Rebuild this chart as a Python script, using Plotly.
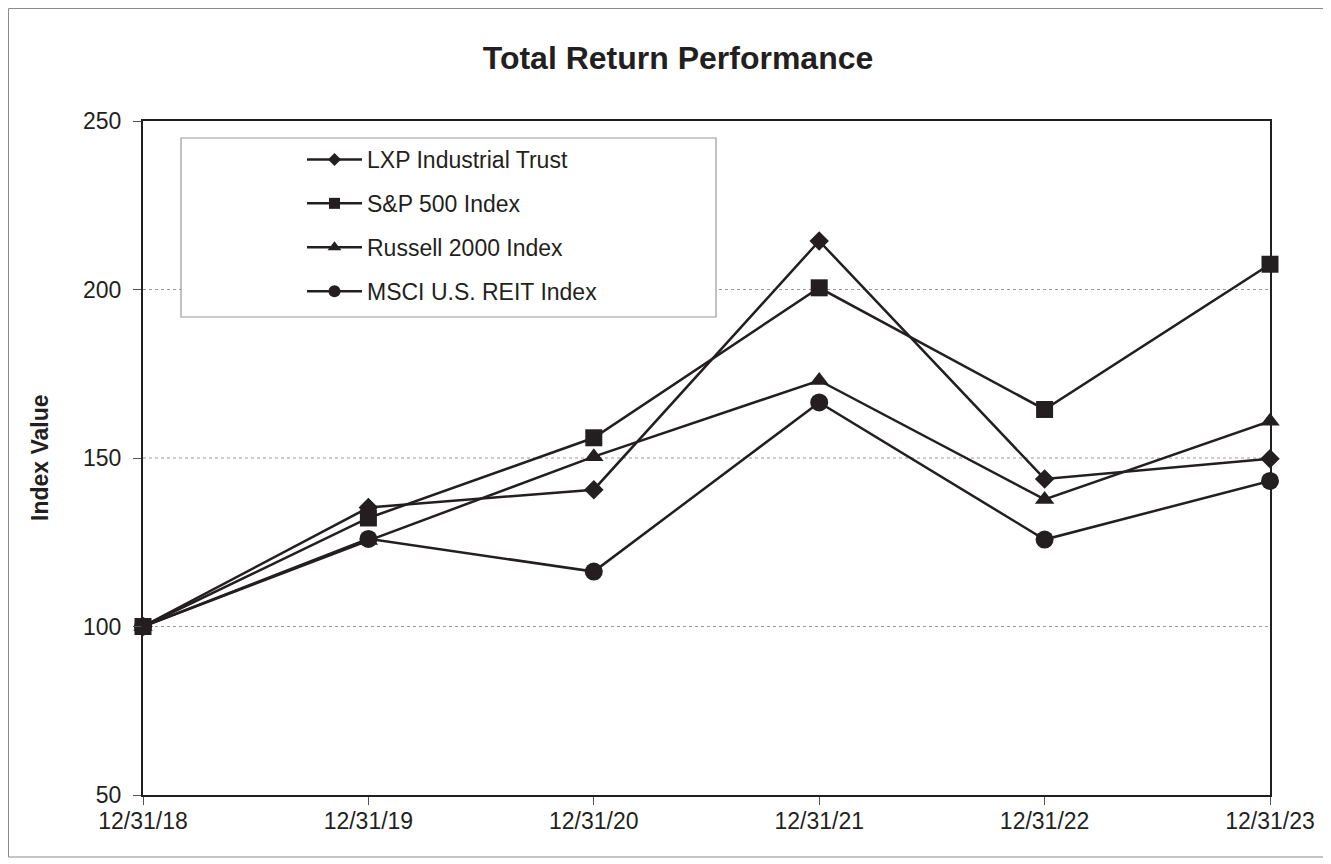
import plotly.graph_objects as go

dates = ["12/31/18", "12/31/19", "12/31/20", "12/31/21", "12/31/22", "12/31/23"]
lxp = [100, 135.3, 140.6, 214.4, 143.8, 149.8]
sp500 = [100, 132.2, 156.0, 200.5, 164.4, 207.5]
russell = [100, 125.5, 150.4, 173.0, 137.7, 160.9]
msci = [100, 126.0, 116.3, 166.5, 125.8, 143.2]

names = ["LXP Industrial Trust", "S&P 500 Index", "Russell 2000 Index", "MSCI U.S. REIT Index"]
series = [lxp, sp500, russell, msci]
symbols = ["diamond", "square", "triangle-up", "circle"]
sizes = [15, 17, 17, 18]
legend_sizes = [10, 11, 12, 12]

INK = "#231f20"
OFF = 8  # page body margin
W, H = 1331 - OFF, 864 - OFF
# target pixel positions in the screenshot
L, R, T, B = 143, 1270, 121, 795

def px_x(p):
    return (p - L) / (R - L)

def px_y(p):
    return (B - p) / (B - T)

fig = go.Figure()
for i, (n, s, sym, sz, lsz) in enumerate(zip(names, series, symbols, sizes, legend_sizes)):
    fig.add_trace(go.Scatter(
        x=dates, y=s, name=n, mode="lines+markers",
        line=dict(color=INK, width=2.5),
        marker=dict(symbol=sym, size=sz, color=INK, line=dict(width=0)),
        cliponaxis=False, legendgroup=str(i), showlegend=False,
    ))
    # legend entry with smaller marker, as in the reference
    fig.add_trace(go.Scatter(
        x=[None], y=[None], name=n, mode="lines+markers",
        line=dict(color=INK, width=2.5),
        marker=dict(symbol=sym, size=lsz, color=INK, line=dict(width=0)),
        legendgroup=str(i), showlegend=True,
    ))

font = "Liberation Sans, Arial, sans-serif"
fig.update_layout(
    width=W, height=H,
    margin=dict(l=L - OFF, r=W - (R - OFF), t=T - OFF, b=H - (B - OFF)),
    paper_bgcolor="white", plot_bgcolor="white",
    font=dict(family=font, color=INK, size=23),
    title=dict(text="<b>Total Return Performance</b>", x=(678 - OFF) / W, xanchor="center",
               y=1 - (58 - OFF) / H, yanchor="middle", font=dict(size=32, color=INK)),
    showlegend=True,
    legend=dict(x=px_x(302), y=px_y(138), xanchor="left", yanchor="top",
                bgcolor="rgba(0,0,0,0)", borderwidth=0, itemwidth=55,
                traceorder="grouped", tracegroupgap=11,
                font=dict(size=23, color=INK)),
    xaxis=dict(type="category", range=[0, 5], showgrid=False,
               showline=True, linecolor=INK, linewidth=2, mirror=True,
               ticks="outside", ticklen=8, tickcolor="#555", tickwidth=1,
               ticklabelstandoff=-4,
               tickfont=dict(size=23, color=INK), zeroline=False),
    yaxis=dict(range=[50, 250], tickvals=[50, 100, 150, 200, 250],
               showline=True, linecolor=INK, linewidth=2, mirror=True,
               ticks="outside", ticklen=8, tickcolor="#555", tickwidth=1,
               ticklabelstandoff=7,
               tickfont=dict(size=23, color=INK),
               showgrid=False, zeroline=False),
)

# dotted gridlines at 100, 150, 200
for v in [100, 150, 200]:
    fig.add_shape(type="line", xref="paper", yref="y", x0=0, x1=1, y0=v, y1=v,
                  line=dict(color="#9a9a9a", width=1, dash="dot"), layer="below")

# legend frame
fig.add_shape(type="rect", xref="paper", yref="paper",
              x0=px_x(181), x1=px_x(716), y0=px_y(317), y1=px_y(138),
              line=dict(color="#9a9a9a", width=1.2), fillcolor="white", layer="above")

# outer figure frame
fig.add_shape(type="rect", xref="paper", yref="paper",
              x0=px_x(8.5), x1=px_x(1329), y0=px_y(857), y1=px_y(8.5),
              line=dict(color="#8a8a8a", width=1), layer="below")

fig.add_annotation(text="<b>Index Value</b>", textangle=-90, xref="paper", yref="paper",
                   x=px_x(40), y=0.5, xanchor="center", yanchor="middle",
                   showarrow=False, font=dict(size=23, color=INK))

fig.write_html("out.html")
